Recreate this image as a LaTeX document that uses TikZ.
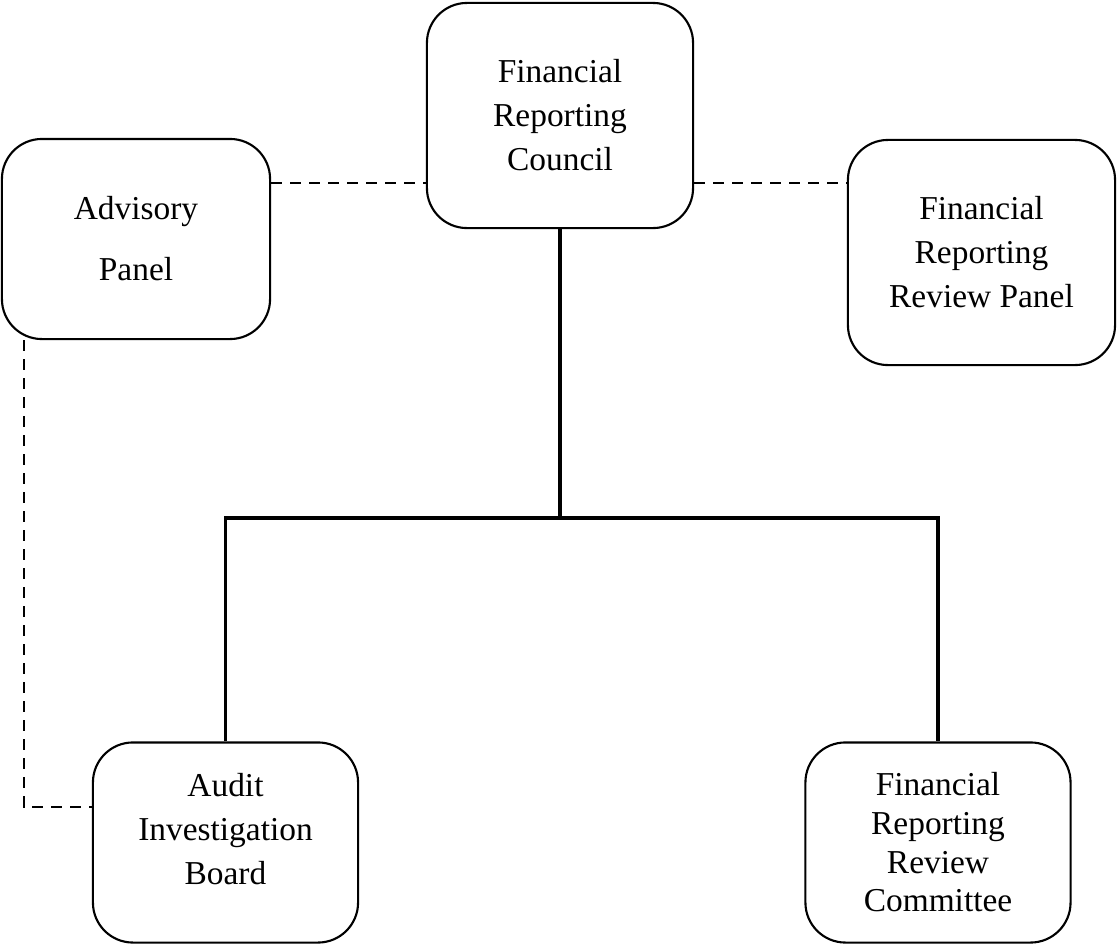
\documentclass[tikz,border=0pt]{standalone}
\usepackage{fontspec}
\setmainfont{Liberation Serif}
\usepackage{tikz}

\begin{document}
\begin{tikzpicture}[x=0.01cm,y=-0.01cm,
	unit/.style={draw,line width=0.6pt,rounded corners=4mm,align=center,
		font=\fontsize{9.5}{12.5}\selectfont,inner sep=0pt},
	link/.style={line width=0.9pt},
	tie/.style={line width=0.6pt,dash pattern=on 1.1mm off 0.8mm}]
	\useasboundingbox (0,0) rectangle (1117,945);

	\node[unit,minimum width=26.6mm,minimum height=22.5mm] (frc) at (560,115.5) {Financial\\Reporting\\Council};
	\node[unit,minimum width=26.8mm,minimum height=20mm] (adv) at (136,239) {Advisory\\[1.7mm]Panel};
	\node[unit,minimum width=26.7mm,minimum height=22.5mm] (frrp) at (981.5,252.5) {Financial\\Reporting\\Review Panel};
	\node[unit,minimum width=26.5mm,minimum height=20mm] (aib) at (225.5,842.5) {Audit\\Investigation\\Board\\[-1.6mm]{}};
	\node[unit,minimum width=26.5mm,minimum height=20mm,font=\fontsize{9.5}{11}\selectfont] (frrc) at (938,842.5) {Financial\\Reporting\\Review\\Committee};

	\coordinate (bar) at (560,518);
	\coordinate (level) at (560,183);
	\coordinate (elbow) at (24,807);

	\draw[link] (frc.south) -- (bar);
	\draw[link] (aib.north) |- (bar) -| (frrc.north);

	\draw[tie] (adv.east |- level) -- (frc.west |- level);
	\draw[tie] (frc.east |- level) -- (frrp.west |- level);
	\draw[tie] (adv.south -| elbow) -- (elbow) -- (aib.west |- elbow);
\end{tikzpicture}
\end{document}
